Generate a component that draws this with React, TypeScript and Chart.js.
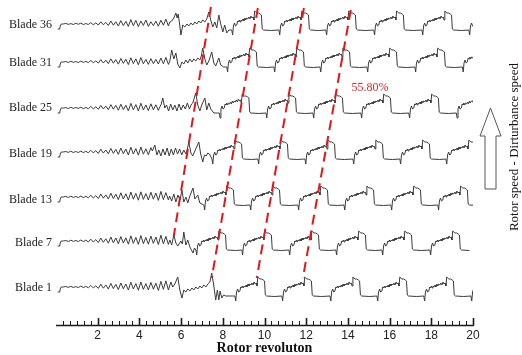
import { useEffect, useRef } from 'react';
import { Chart, registerables } from 'chart.js';

Chart.register(...registerables);

// ---------- data ----------
const BLADE_NAMES = ['Blade 36', 'Blade 31', 'Blade 25', 'Blade 19', 'Blade 13', 'Blade 7', 'Blade 1'];
// y value of each blade label (chart units: 0 = x axis, 325 = top)
const BLADE_LABEL_Y = [300, 262, 217, 171, 125, 82, 37];
// y value of the "low" signal level of each blade trace
const BLADE_LOW = [295, 258, 212, 166, 120, 75, 29];
// pre-stall mean level above the low level
const PRE_LEVEL = [6, 5, 5, 7, 8, 9, 9];

const X_TICKS = [2, 4, 6, 8, 10, 12, 14, 16, 18, 20];
const X_TITLE = 'Rotor revoluton';
const SIDE_TITLE = 'Rotor speed - Dirturbance speed';
const CELL_LABEL = '55.80%';

// pre-stall ripple, samples every 0.12 rev from 0.35 rev
const RIPPLE_X0 = 0.35;
const RIPPLE_DX = 0.12;
const RIPPLE_36 = [0, 0.6, -0.4, 0.4, -0.5, 0.7, -0.3, 0.9, -0.6, 0.5, -0.5, 1.4, -0.8, 1.1, -1, 2.2, -0.8, 1.6, -1.5, 3, -1.2, 2.2, -2, 3.4, -1.6, 2.6, -2.4, 4.4, -1.8, 3.6, -2.6, 3, -1.5, 4, -2.4, 2.2, -1.6, 2.8, -2.2, 3.8, -1.2, 4.8, -2, 3, -2, 3];
const RIPPLE_31 = [0, 0.5, -0.5, 0.8, -0.3, 0.4, -0.5, 0.9, -0.4, 0.6, -0.6, 1.5, -0.7, 1.1, -1.1, 2.4, -1, 1.8, -1.6, 3.2, -1.2, 2.4, -2.2, 3.6, -1.4, 2.8, -2.6, 4.2, -1.6, 3.2, -2.8, 4.4, -1.8, 2.6, -2.4, 3.4, -1.6, 2.6, -2, 4, -1.8, 4.6, -2.4, 3.5, -2, 3];
const RIPPLE_25 = [0, 0.4, -0.5, 0.7, -0.4, 0.5, -0.4, 0.8, -0.7, 0.6, -0.7, 1.6, -0.8, 1.2, -1.2, 2.5, -1, 1.9, -1.7, 3.4, -1.2, 2.6, -2.2, 3.8, -1.6, 2.8, -2.8, 4.6, -1.8, 3.4, -3, 4.8, -2, 3, -2.6, 4.2, -1.8, 3.2, -2.4, 4.2, -2.6, 4];
const RIPPLE_19 = [0, 0.5, -0.4, 0.8, -0.5, 0.5, -0.5, 0.9, -0.6, 0.7, -0.8, 1.7, -0.9, 1.3, -1.4, 2.8, -1.1, 2, -1.8, 3.6, -1.4, 2.6, -2.4, 4, -1.8, 3, -3, 4.8, -2, 3.4, -3.2, 5, -2.2, 3.2, -2.8, 4.4, -2, 4];
const RIPPLE_13 = [0, 0.6, -0.5, 0.8, -0.4, 0.5, -0.5, 0.9, -0.7, 0.7, -0.8, 1.8, -1, 1.3, -1.5, 3, -1.2, 2.1, -2, 3.8, -1.6, 2.8, -2.6, 4.2, -2, 3.2, -3, 5, -2.2, 3.6, -3.2, 5.2, -2.4, 3.4, -3, 4.8, -2.2, 4, -3.4, 5.6, -2.6, 4.4, -3, 4.5, -3, 4];
const RIPPLE_7 = [0, 0.5, -0.5, 0.8, -0.4, 0.5, -0.5, 1, -0.6, 0.8, -0.9, 1.8, -1, 1.4, -1.6, 3, -1.3, 2.2, -2.2, 4, -1.8, 3, -2.8, 4.4, -2, 3.2, -3.2, 5.2, -2.4, 3.6, -3.4, 5.4, -2.6, 3.6, -3.2, 5, -2.4, 4, -3.6, 5.8, -2.8, 4.6, -3.4, 5, -3, 4];
const RIPPLE_1 = [0, 0.5, -0.4, 0.7, -0.5, 0.4, -0.5, 0.9, -0.6, 0.6, -0.8, 1.6, -0.9, 1.2, -1.4, 2.8, -1.2, 2, -2, 3.6, -1.6, 2.6, -2.6, 4, -1.8, 3, -3, 4.8, -2, 3.4, -3.2, 5, -2.4, 3.4, -3, 4.6, -2.2, 3.8, -3.4, 5.6, -2.4, 6.2, -3, 5, -3, 4];

// stall inception / transition region: [rev, level above low]
const TRANS_36 = [[5.46, 8], [5.55, 9], [5.65, 12], [5.75, 17], [5.81, 12], [5.86, 16], [5.94, 4], [5.99, -5], [6.08, 5], [6.18, 3], [6.28, 6], [6.37, 4], [6.47, 7], [6.56, 5], [6.66, 8], [6.75, 6], [6.85, 9], [6.94, 7], [7.04, 10], [7.14, 8], [7.23, 11], [7.33, 18], [7.42, 10], [7.52, 3], [7.62, 8], [7.71, 2], [7.81, 15], [7.90, 6], [8.00, -2], [8.09, 5], [8.19, -3], [8.29, 0], [8.38, 0]];
const TRANS_31 = [[5.46, 6], [5.55, 17], [5.65, 8], [5.75, 14], [5.84, 3], [5.94, -1], [6.04, 5], [6.13, 3], [6.23, 7], [6.32, 4], [6.42, 8], [6.52, 5], [6.61, 8], [6.71, 6], [6.80, 9], [6.90, 7], [6.97, 11], [7.04, 19], [7.14, 8], [7.23, 2], [7.33, 6], [7.47, 15], [7.57, 4], [7.66, 1], [7.81, 9], [7.90, 2], [8.04, 0], [8.12, 0]];
const TRANS_25 = [[4.98, 6], [5.05, 9], [5.12, 15], [5.22, 5], [5.30, 8], [5.40, 2], [5.50, 9], [5.60, 3], [5.70, 8], [5.80, 2], [5.90, 9], [6.00, 3], [6.10, 8], [6.20, 4], [6.30, 10], [6.40, 4], [6.50, 9], [6.56, 10], [6.70, 20], [6.80, 8], [6.90, 2], [6.99, 8], [7.14, 15], [7.23, 3], [7.33, 10], [7.42, 4], [7.57, 0], [7.75, 0]];
const TRANS_19 = [[4.62, 8], [4.74, 14], [4.84, 4], [4.93, 9], [5.03, 3], [5.13, 10], [5.23, 4], [5.33, 11], [5.43, 3], [5.53, 10], [5.63, 4], [5.73, 11], [5.83, 5], [5.93, 10], [6.03, 4], [6.13, 9], [6.23, 5], [6.30, 10], [6.37, 17], [6.47, 6], [6.56, 3], [6.70, 10], [6.85, 17], [6.94, 5], [7.04, -3], [7.12, 4], [7.20, 3], [7.28, 6], [7.36, 5]];
const TRANS_13 = [[5.45, 9], [5.55, 4], [5.65, 11], [5.75, 3], [5.85, 10], [5.95, 5], [6.04, 15], [6.13, 3], [6.23, 8], [6.32, 2], [6.42, 9], [6.57, 17], [6.66, 6], [6.80, 10], [6.90, 2]];
const TRANS_7 = [[5.46, 10], [5.55, 5], [5.65, 15], [5.75, 7], [5.84, 4], [5.99, 9], [6.06, 6], [6.13, 18], [6.23, 5], [6.32, 10], [6.42, 3], [6.57, -3], [6.64, 2]];
const TRANS_1 = [[5.60, 9], [5.70, 12], [5.84, 19], [5.94, 6], [6.04, -2], [6.13, 6], [6.23, 4], [6.32, 7], [6.42, 5], [6.52, 8], [6.61, 6], [6.71, 9], [6.80, 7], [6.90, 10], [6.99, 8], [7.09, 11], [7.19, 9], [7.28, 12], [7.38, 14], [7.47, 23], [7.57, 10], [7.66, -4], [7.74, 6], [7.81, -4], [7.87, 5], [7.95, -2], [8.04, 1], [8.14, 0], [8.50, 0]];

// rotating-stall cell peak positions (rev) for each blade
const PEAKS_36 = [9.53, 11.79, 14.04, 16.34, 18.65, 20.9];
const PEAKS_31 = [9.29, 11.55, 13.76, 16.01, 18.31, 20.59];
const PEAKS_25 = [8.93, 11.17, 13.42, 15.72, 18.02, 20.3];
const PEAKS_19 = [8.58, 10.78, 13.04, 15.34, 17.59, 19.8];
const PEAKS_13 = [8.19, 10.4, 12.7, 14.91, 17.16, 19.41];
const PEAKS_7 = [7.81, 10.01, 12.27, 14.52, 16.73, 19.03];
const PEAKS_1 = [9.68, 11.93, 14.24, 16.49, 18.74, 21.0];

// one stall-cell passage as seen by a blade (offset from peak in rev, level above low)
const CELL_DX = [-1.10, -1.06, -1.02, -0.97, -0.92, -0.86, -0.82, -0.78, -0.74, -0.70, -0.66, -0.61, -0.56, -0.52, -0.47, -0.43, -0.38, -0.33, -0.28, -0.23, -0.18, -0.13, -0.08, -0.04, 0, 0.05, 0.10, 0.18, 0.26, 0.32, 0.36, 0.42, 0.80];
const CELL_DY = [0, -5, 4, 7, 4, 5, 9, 8, 10, 8, 10, 9, 11, 9, 12, 10, 12, 11, 13, 11, 14, 12, 13, 10, 19, 18, 17, 17, 16, 15, 1, 0, -0.5];

// red dashed stall-cell trajectories: [rev, y] start and end
const CELL_LINES = [
  [[7.43, 318], [5.65, 89]],
  [[9.68, 317], [7.47, 47]],
  [[11.89, 317], [9.63, 47]],
  [[14.14, 315], [11.84, 47]],
];

const RIPPLES = [RIPPLE_36, RIPPLE_31, RIPPLE_25, RIPPLE_19, RIPPLE_13, RIPPLE_7, RIPPLE_1];
const TRANSITIONS = [TRANS_36, TRANS_31, TRANS_25, TRANS_19, TRANS_13, TRANS_7, TRANS_1];
const PEAKS = [PEAKS_36, PEAKS_31, PEAKS_25, PEAKS_19, PEAKS_13, PEAKS_7, PEAKS_1];

function buildTrace(b: number) {
  const low = BLADE_LOW[b];
  const pre = PRE_LEVEL[b];
  const pts: { x: number; y: number }[] = [];
  // start hook
  pts.push({ x: 0.08, y: low + pre - 5 }, { x: 0.18, y: low + pre - 5 }, { x: 0.2, y: low + pre - 2 }, { x: 0.25, y: low + pre });
  const trans = TRANSITIONS[b];
  const tStart = trans[0][0];
  RIPPLES[b].forEach((v, i) => {
    const x = RIPPLE_X0 + i * RIPPLE_DX;
    if (x < tStart) pts.push({ x, y: low + pre + v });
  });
  trans.forEach(([x, y]) => pts.push({ x, y: low + y }));
  PEAKS[b].forEach((p) => {
    CELL_DX.forEach((dx, i) => pts.push({ x: p + dx, y: low + CELL_DY[i] }));
  });
  return pts;
}

const sideDecor = {
  id: 'sideDecor',
  afterDraw(chart: any) {
    const { ctx, chartArea } = chart;
    const xs = chart.scales.x;
    const y0 = chartArea.bottom;
    ctx.save();
    // axis line
    ctx.strokeStyle = '#1a1a1a';
    ctx.lineWidth = 1.6;
    ctx.beginPath();
    ctx.moveTo(xs.left, y0 + 0.5);
    ctx.lineTo(xs.right + 0.8, y0 + 0.5);
    ctx.stroke();
    // ticks pointing up (major every 2, minor every 1/3)
    for (let k = 1; k <= 60; k++) {
      const major = k % 6 === 0;
      const px = Math.round(xs.getPixelForValue(k / 3)) + 0.5;
      ctx.lineWidth = major ? 1.6 : 1;
      ctx.beginPath();
      ctx.moveTo(px, y0 + 0.5);
      ctx.lineTo(px, y0 - (major ? 7 : 4));
      ctx.stroke();
    }
    // cell label
    ctx.fillStyle = '#e0242a';
    ctx.font = '12px "Liberation Serif", "Times New Roman", serif';
    ctx.textAlign = 'center';
    ctx.textBaseline = 'middle';
    ctx.fillText(CELL_LABEL, 370, 88);
    // arrow
    const cx = 490;
    ctx.strokeStyle = '#555';
    ctx.lineWidth = 1;
    ctx.beginPath();
    ctx.moveTo(cx + 0.5, 108);
    ctx.lineTo(cx + 11, 136);
    ctx.lineTo(cx + 6, 136);
    ctx.lineTo(cx + 6, 189);
    ctx.lineTo(cx - 5, 189);
    ctx.lineTo(cx - 5, 136);
    ctx.lineTo(cx - 10, 136);
    ctx.closePath();
    ctx.stroke();
    // side title
    ctx.translate(518, 147);
    ctx.rotate(-Math.PI / 2);
    ctx.fillStyle = '#111';
    ctx.font = '13px "Liberation Serif", "Times New Roman", serif';
    ctx.textAlign = 'center';
    ctx.textBaseline = 'alphabetic';
    ctx.fillText(SIDE_TITLE, 0, 0);
    ctx.restore();
  },
};

export default function App() {
  const ref = useRef<HTMLCanvasElement | null>(null);
  useEffect(() => {
    if (!ref.current) return;
    const traces = BLADE_NAMES.map((name, b) => ({
      label: name,
      data: buildTrace(b),
      borderColor: '#3a3a3a',
      borderWidth: 1,
      pointRadius: 0,
      tension: 0,
      order: 1,
    }));
    const lines = CELL_LINES.map((seg, i) => ({
      label: 'cell ' + (i + 1),
      data: seg.map(([x, y]) => ({ x, y })),
      borderColor: '#e3161b',
      borderWidth: 2,
      borderDash: [10, 6],
      pointRadius: 0,
      tension: 0,
      order: 0,
    }));
    const chart = new Chart(ref.current, {
      type: 'line',
      data: { datasets: [...lines, ...traces] as any },
      plugins: [sideDecor],
      options: {
        animation: false,
        responsive: false,
        devicePixelRatio: 1,
        layout: { padding: { left: 0, top: 0, right: 49, bottom: 0 } },
        plugins: { legend: { display: false }, tooltip: { enabled: false } },
        scales: {
          x: {
            type: 'linear',
            min: 0,
            max: 20,
            grid: { display: false, drawTicks: false },
            border: { display: false },
            afterBuildTicks: (s: any) => {
              s.ticks = X_TICKS.map((v) => ({ value: v }));
            },
            afterFit: (s: any) => {
              s.height = 30;
              s.paddingLeft = 0;
              s.paddingRight = 0;
            },
            ticks: {
              autoSkip: false,
              maxRotation: 0,
              padding: 3,
              color: '#222',
              font: { family: '"Liberation Sans", Arial, sans-serif', size: 12 },
              callback: (v: any) => String(v),
            },
            title: {
              display: true,
              text: X_TITLE,
              color: '#111',
              padding: 0,
              font: { family: '"Liberation Serif", "Times New Roman", serif', size: 14, weight: 'bold', lineHeight: 1 },
            },
          },
          y: {
            type: 'linear',
            min: 0,
            max: 325,
            grid: { display: false, drawTicks: false },
            border: { display: false },
            afterBuildTicks: (s: any) => {
              s.ticks = BLADE_LABEL_Y.map((v) => ({ value: v }));
            },
            afterFit: (s: any) => {
              s.width = 56;
              s.paddingTop = 0;
              s.paddingBottom = 0;
            },
            ticks: {
              autoSkip: false,
              padding: 4,
              color: '#222',
              font: { family: '"Liberation Serif", "Times New Roman", serif', size: 12 },
              callback: (_v: any, i: number) => BLADE_NAMES[i],
            },
          },
        },
      },
    });
    return () => chart.destroy();
  }, []);
  return (
    <div style={{ position: 'absolute', left: 0, top: 0, width: 522, height: 355, background: '#fff' }}>
      <canvas ref={ref} width={522} height={355} style={{ display: 'block', width: 522, height: 355 }} />
    </div>
  );
}
